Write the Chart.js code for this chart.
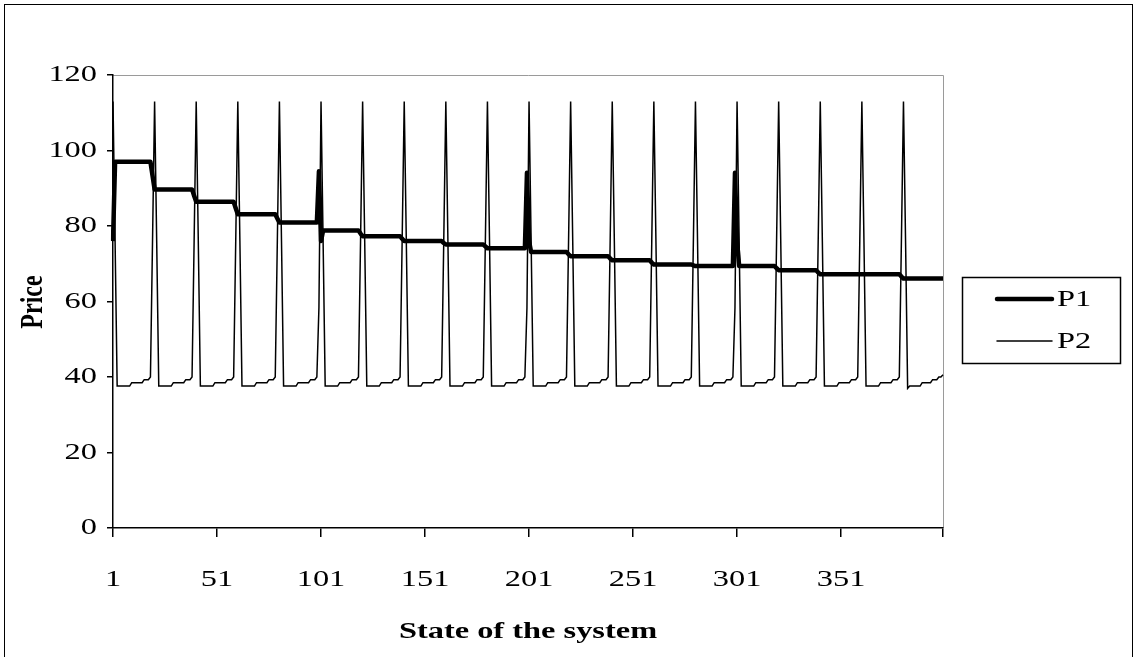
<!DOCTYPE html>
<html>
<head>
<meta charset="utf-8">
<script src="https://cdn.jsdelivr.net/npm/chart.js@4.4.1/dist/chart.umd.min.js"></script>
<style>
  html, body { margin: 0; padding: 0; background: #fff; }
  canvas { display: block; }
</style>
</head>
<body>
<canvas id="chart" width="1137" height="657"></canvas>
<script>
// ---- Data -------------------------------------------------------------
// 400 states of the system, grouped in rounds of 20 states.
const stateCount = 400;
const roundLength = 20;

// P1: price held through each round
const p1RoundLevel = [97.0, 89.7, 86.4, 83.1, 80.9, 78.8, 77.3, 76.0, 75.1, 74.1,
                      73.1, 72.0, 70.9, 69.8, 69.4, 69.4, 68.3, 67.2, 67.2, 66.1];
// P1 on the first state of a round, when it differs from the level
const p1RoundOpen  = [76, null, null, null, null, 76, null, null, null, null,
                      76, null, null, null, null, 76, null, null, null, null];
// P1 on the last state of a round
const p1RoundClose = [93.3, 88.0, 84.7, 82.0, 94.5, 78.0, 76.6, 75.5, 74.6, 94.1,
                      72.5, 71.4, 70.3, 69.6, 94.1, 68.8, 67.7, 67.2, 66.6, 66.1];

// P2: the first 19 states of a round (peak, fall, slow climb)
const p2RoundBody = [113, 76, 37.6, 37.6, 37.6, 37.6, 37.6, 37.6, 37.6,
                     38.5, 38.5, 38.5, 38.5, 38.5, 38.5, 39.3, 39.3, 39.3, 40.0];
// P2 in the final round
const p2LastRoundBody = [113, 76, 37.0, 37.6, 37.6, 37.6, 37.6, 37.6, 37.6,
                         38.5, 38.5, 38.5, 38.5, 38.5, 39.3, 39.3, 39.3, 40.0, 40.0];
// P2 on the last state of each round
const p2RoundClose = [76, 76, 76, 76, 58.5, 76, 76, 76, 76, 58.4,
                      76, 76, 76, 76, 58.4, 76, 76, 76, 76, 40.6];

// Category labels 1..400 and the states that carry a tick
const tickStates = [1, 51, 101, 151, 201, 251, 301, 351];

// ---- Series assembly ----------------------------------------------------
const labels = Array.from({ length: stateCount }, (_, i) => String(i + 1));
const p1 = [];
const p2 = [];
for (let r = 0; r < p1RoundLevel.length; r++) {
  for (let k = 0; k < roundLength; k++) {
    if (k === 0 && p1RoundOpen[r] !== null) p1.push(p1RoundOpen[r]);
    else if (k === roundLength - 1) p1.push(p1RoundClose[r]);
    else p1.push(p1RoundLevel[r]);
  }
  const body = r === p1RoundLevel.length - 1 ? p2LastRoundBody : p2RoundBody;
  p2.push(...body, p2RoundClose[r]);
}

// ---- Layout constants ---------------------------------------------------
const W = 1137, H = 657;
const plot = { left: 113, right: 943, top: 75, bottom: 528 };
const serif = '"Liberation Serif", "Times New Roman", serif';
const textStretch = 1.35;

function drawText(ctx, text, x, y, font, align, rotate) {
  ctx.save();
  ctx.translate(x, y);
  ctx.scale(textStretch, 1);
  if (rotate) ctx.rotate(rotate);
  ctx.font = font;
  ctx.fillStyle = '#000';
  ctx.textAlign = align;
  ctx.textBaseline = 'middle';
  ctx.fillText(text, 0, 0);
  ctx.restore();
}

// Background, outer frame and the light top/right edges of the plot area
const framePlugin = {
  id: 'frame',
  beforeDraw(chart) {
    const ctx = chart.ctx, a = chart.chartArea;
    ctx.save();
    ctx.fillStyle = '#fff';
    ctx.fillRect(0, 0, chart.width, chart.height);
    ctx.strokeStyle = '#000';
    ctx.lineWidth = 1;
    ctx.strokeRect(4.5, 4.5, chart.width - 9, chart.height + 20);
    ctx.strokeStyle = '#9a9a9a';
    ctx.beginPath();
    ctx.moveTo(a.left, a.top + 0.5);
    ctx.lineTo(a.right + 0.5, a.top + 0.5);
    ctx.lineTo(a.right + 0.5, a.bottom);
    ctx.stroke();
    ctx.restore();
  }
};

// Tick labels, axis titles and legend
const textPlugin = {
  id: 'texts',
  afterDraw(chart) {
    const ctx = chart.ctx;
    const xs = chart.scales.x, ys = chart.scales.y;
    const tickFont = '24px ' + serif;
    ys.ticks.forEach((t, i) => {
      drawText(ctx, t.label, 97, ys.getPixelForTick(i), tickFont, 'right');
    });
    xs.ticks.forEach((t, i) => {
      if (t.label) drawText(ctx, t.label, xs.getPixelForTick(i), 580, tickFont, 'center');
    });
    drawText(ctx, 'Price', 34, 302, 'bold 24px ' + serif, 'center', -Math.PI / 2);
    drawText(ctx, 'State of the system', 528, 632, 'bold 24px ' + serif, 'center');

    // legend
    ctx.save();
    ctx.strokeStyle = '#000';
    ctx.lineWidth = 1.5;
    ctx.strokeRect(962.5, 277.5, 158, 86);
    const ds = chart.data.datasets;
    const rows = [299, 341];
    ds.forEach((d, i) => {
      ctx.beginPath();
      ctx.lineCap = 'round';
      ctx.lineWidth = d.borderWidth;
      ctx.strokeStyle = d.borderColor;
      ctx.moveTo(997, rows[i]);
      ctx.lineTo(1052, rows[i]);
      ctx.stroke();
      drawText(ctx, d.label, 1057, rows[i] + 1, '24px ' + serif, 'left');
    });
    ctx.restore();
  }
};

new Chart(document.getElementById('chart'), {
  type: 'line',
  data: {
    labels: labels,
    datasets: [
      { label: 'P1', data: p1, borderColor: '#000', borderWidth: 4.5, order: 1,
        borderJoinStyle: 'round', pointRadius: 0 },
      { label: 'P2', data: p2, borderColor: '#000', borderWidth: 1.5, order: 0,
        pointRadius: 0 }
    ]
  },
  options: {
    responsive: false,
    animation: false,
    events: [],
    layout: { padding: { left: 0, right: W - plot.right, top: plot.top, bottom: 0 } },
    plugins: { legend: { display: false }, tooltip: { enabled: false } },
    elements: { line: { tension: 0 } },
    scales: {
      x: {
        type: 'category',
        offset: false,
        afterBuildTicks(scale) {
          scale.ticks = scale.ticks.filter(t =>
            tickStates.includes(t.value + 1) || t.value === stateCount - 1);
        },
        afterFit(scale) { scale.height = H - plot.bottom; },
        ticks: {
          display: false,
          autoSkip: false,
          maxRotation: 0,
          callback(value) {
            const s = value + 1;
            return tickStates.includes(s) ? String(s) : '';
          }
        },
        grid: { drawOnChartArea: false, drawTicks: true, tickLength: 9, color: '#000', lineWidth: 1.5 },
        border: { display: true, color: '#000', width: 1.5 }
      },
      y: {
        min: 0,
        max: 120,
        afterFit(scale) { scale.width = plot.left; },
        ticks: { display: false, stepSize: 20 },
        grid: { drawOnChartArea: false, drawTicks: true, tickLength: 6, color: '#000', lineWidth: 1.5 },
        border: { display: true, color: '#000', width: 1.5 }
      }
    }
  },
  plugins: [framePlugin, textPlugin]
});
</script>
</body>
</html>
